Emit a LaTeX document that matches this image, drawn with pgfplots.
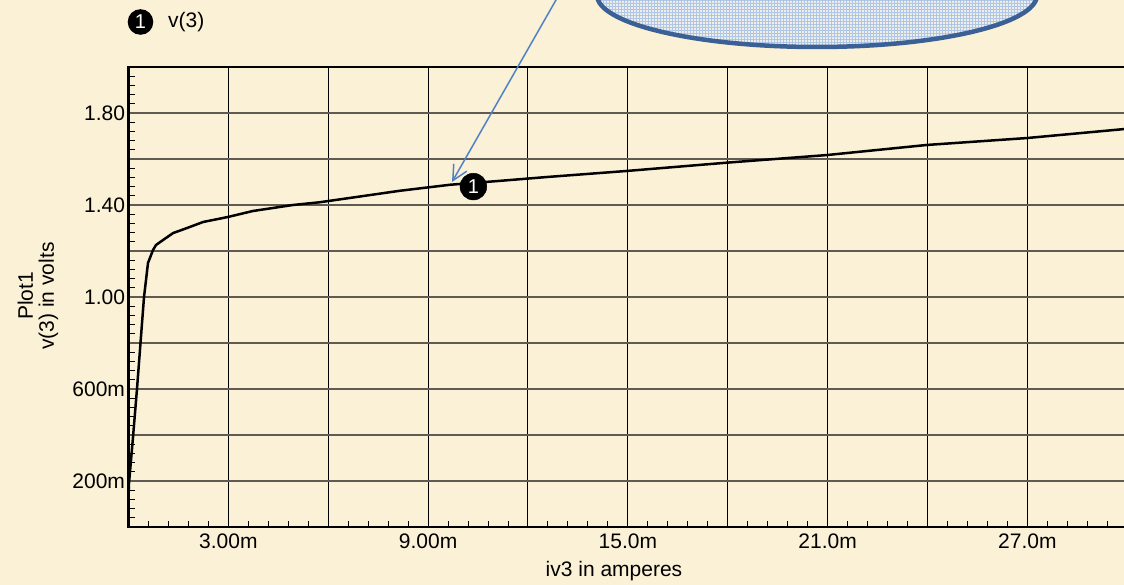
\documentclass[border=0pt]{standalone}
\usepackage{fontspec}
\setmainfont{Liberation Sans}
\usepackage{pgfplots}
\pgfplotsset{compat=1.18}
\usetikzlibrary{patterns,arrows.meta}
\definecolor{bg}{RGB}{251,241,214}
\definecolor{callout}{RGB}{58,96,150}
\definecolor{arrowblue}{RGB}{79,129,199}
\definecolor{hgrid}{RGB}{95,90,82}
\definecolor{hatchbg}{RGB}{238,238,232}
\begin{document}
\begin{tikzpicture}[x=1pt,y=1pt]
\useasboundingbox (0,0) rectangle (1124,585);
\clip (0,0) rectangle (1124,585);
\fill[bg] (0,0) rectangle (1124,585);
\begin{axis}[
    at={(128.5pt,58pt)}, anchor=south west,
    scale only axis, width=998.7pt, height=460pt,
    xmin=0, xmax=30, ymin=0, ymax=2,
    xtick={0,3,6,9,12,15,18,21,24,27,30},
    xticklabels={,3.00m,,9.00m,,15.0m,,21.0m,,27.0m,},
    ytick={0,0.2,0.4,0.6,0.8,1.0,1.2,1.4,1.6,1.8,2.0},
    yticklabels={,200m,,600m,,1.00,,1.40,,1.80,},
    minor x tick num=4, minor y tick num=4,
    xtick pos=left, ytick pos=left,
    tick align=inside,
    major tick length=0pt, minor tick length=6pt,
    minor tick style={black, line width=1pt},
    grid=major,
    major x grid style={black, line width=1pt},
    major y grid style={hgrid, line width=1.6pt},
    axis line style={black, line width=2.5pt},
    ticklabel style={font=\fontsize{21}{24}\selectfont},
    xticklabel style={yshift=-3pt},
  ]
  \addplot[black, line width=2.5pt] coordinates {
    (0.0,0.12) (0.015,0.19) (0.135,0.39) (0.255,0.60) (0.466,1.00)
    (0.586,1.148) (0.736,1.204) (0.826,1.226) (1.04,1.248) (1.34,1.278)
    (1.76,1.30) (2.24,1.326) (2.99,1.348) (3.74,1.374) (4.94,1.40)
    (5.75,1.412) (8.16,1.462) (9.66,1.488) (11.16,1.505) (12.6,1.522)
    (14.97,1.548) (17.97,1.584) (20.97,1.617) (23.98,1.661) (26.98,1.691)
    (29.9,1.73)
  };
  \addplot[only marks, mark=*, mark size=13.4pt, mark options={fill=black, draw=black},
    nodes near coords={1},
    every node near coord/.append style={anchor=center, text=white, inner sep=0pt,
      font=\fontsize{20}{20}\selectfont}]
    coordinates {(10.36,1.48)};
\end{axis}
% y and x axis titles
\node[rotate=90, align=center, font=\fontsize{21}{21}\selectfont] at (38,289) {Plot1\\v(3) in volts};
\node[font=\fontsize{21}{24}\selectfont] at (614,14) {iv3 in amperes};
% legend entry
\fill[black] (140.5,563) circle (12.8);
\node[text=white, font=\fontsize{20}{20}\selectfont] at (140.5,563) {1};
\node[anchor=west, inner sep=0pt, font=\fontsize{21}{24}\selectfont] at (168,563) {v(3)};
% callout balloon and pointer
\fill[hatchbg] (817,590) ellipse [x radius=220, y radius=52];
\fill[pattern=grid, pattern color=arrowblue!45] (817,590) ellipse [x radius=220, y radius=52];
\draw[callout, line width=4.5pt] (817,590) ellipse [x radius=220, y radius=52];
\draw[arrowblue, line width=1.5pt, -{Straight Barb[length=15pt,width=15pt,line width=1.5pt]}] (560,592) -- (452,403);
\end{tikzpicture}
\end{document}
